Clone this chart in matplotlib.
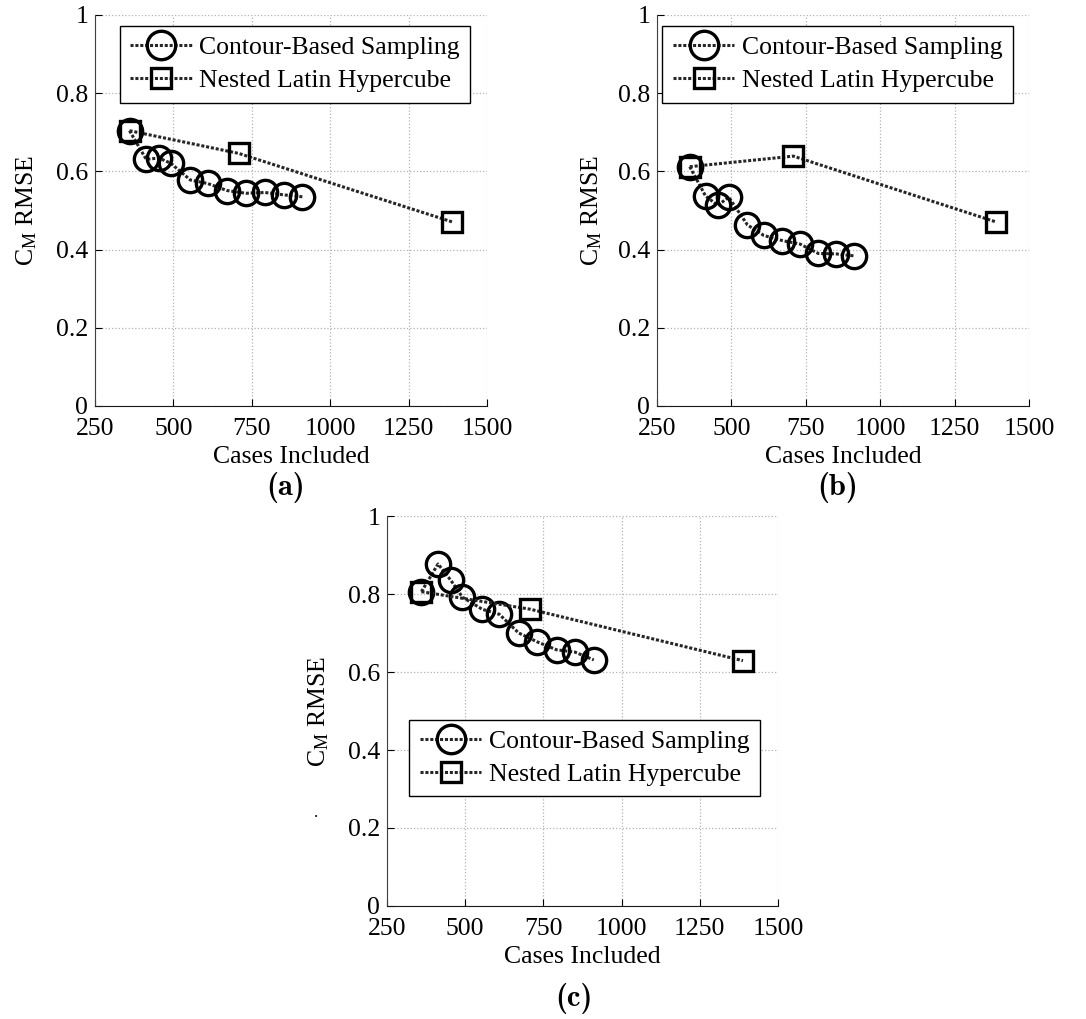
import matplotlib
matplotlib.use("Agg")
import matplotlib.pyplot as plt

plt.rcParams["font.family"] = ["Liberation Serif", "DejaVu Serif"]
plt.rcParams["font.size"] = 18.5
plt.rcParams["mathtext.fontset"] = "custom"
plt.rcParams["mathtext.rm"] = "Liberation Serif"
plt.rcParams["mathtext.it"] = "Liberation Serif:italic"
plt.rcParams["mathtext.bf"] = "Liberation Serif:bold"

# number of cases in each sample set
cases_contour = [360, 413, 454, 491, 554, 609, 671, 731, 792, 851, 911]
cases_nlh = [360, 708, 1388]

# C_M RMSE for the three test cases
rmse_contour_a = [0.704, 0.631, 0.634, 0.621, 0.578, 0.569, 0.551, 0.544, 0.546, 0.540, 0.535]
rmse_nlh_a = [0.704, 0.646, 0.471]

rmse_contour_b = [0.612, 0.537, 0.513, 0.534, 0.463, 0.436, 0.423, 0.414, 0.390, 0.389, 0.384]
rmse_nlh_b = [0.612, 0.639, 0.471]

rmse_contour_c = [0.806, 0.877, 0.835, 0.792, 0.761, 0.748, 0.700, 0.677, 0.657, 0.651, 0.631]
rmse_nlh_c = [0.806, 0.761, 0.629]

xticks = [250, 500, 750, 1000, 1250, 1500]
yticks = [0, 0.2, 0.4, 0.6, 0.8, 1]
ytick_labels = ["0", "0.2", "0.4", "0.6", "0.8", "1"]

line_kw = dict(color="0.15", linestyle=(0, (1, 0.6)), linewidth=2.2,
               markeredgewidth=2.4, markeredgecolor="k", markerfacecolor="none")


def rmse_panel(ax, rmse_contour, rmse_nlh, legend_anchor):
    ax.plot(cases_contour, rmse_contour, marker="o", markersize=17.5,
            label="Contour-Based Sampling", **line_kw)
    ax.plot(cases_nlh, rmse_nlh, marker="s", markersize=15,
            label="Nested Latin Hypercube", **line_kw)
    ax.set_xlim(250, 1500)
    ax.set_ylim(0, 1)
    ax.set_xticks(xticks)
    ax.set_yticks(yticks)
    ax.set_yticklabels(ytick_labels)
    ax.grid(True, color="0.7", linestyle=":", linewidth=0.9)
    ax.set_axisbelow(True)
    for side in ["top", "right"]:
        ax.spines[side].set_visible(False)
    ax.spines["left"].set_color("0.25")
    ax.spines["bottom"].set_color("0.1")
    ax.tick_params(direction="in", length=5, width=0.8, labelsize=18.5)
    ax.tick_params(axis="x", pad=9)
    ax.tick_params(axis="y", pad=5)

    ax.set_xlabel("Cases Included")
    ax.xaxis.set_label_coords(0.5, -0.13)
    ax.xaxis.label.set_verticalalignment("center")
    ax.set_ylabel(r"C$_{\rm M}$ RMSE")
    ax.yaxis.set_label_coords(-0.175, 0.5)
    ax.yaxis.label.set_verticalalignment("center")

    leg = ax.legend(loc="upper right", bbox_to_anchor=legend_anchor, borderaxespad=0,
                    fontsize=18.5, handlelength=2.4, handletextpad=0.3,
                    labelspacing=0.4, borderpad=0.4, fancybox=False,
                    framealpha=1, edgecolor="k")
    leg.get_frame().set_linewidth(1.0)
    # circle in the key is drawn larger than in the plot
    leg.legend_handles[0].set_markersize(20.5)


fig = plt.figure(figsize=(10.86, 10.19), dpi=100)

ax_a = fig.add_axes([0.0875, 0.6016, 0.3610, 0.3837])
ax_b = fig.add_axes([0.6050, 0.6016, 0.3425, 0.3837])
ax_c = fig.add_axes([0.3564, 0.1109, 0.3600, 0.3827])

rmse_panel(ax_a, rmse_contour_a, rmse_nlh_a, (0.957, 0.972))
rmse_panel(ax_b, rmse_contour_b, rmse_nlh_b, (0.957, 0.972))
rmse_panel(ax_c, rmse_contour_c, rmse_nlh_c, (0.954, 0.478))

# sub-figure captions
fig.text(286 / 1086, 1 - 488 / 1019, "(a)", fontfamily="cmb10",
         fontsize=22, ha="center", va="center")
fig.text(838 / 1086, 1 - 488 / 1019, "(b)", fontfamily="cmb10",
         fontsize=22, ha="center", va="center")
fig.text(574 / 1086, 1 - 998 / 1019, "(c)", fontfamily="cmb10",
         fontsize=22, ha="center", va="center")
fig.text(316 / 1086, 1 - 817 / 1019, ".", fontsize=12, ha="center", va="baseline")

fig.savefig("out.png", dpi=100)
